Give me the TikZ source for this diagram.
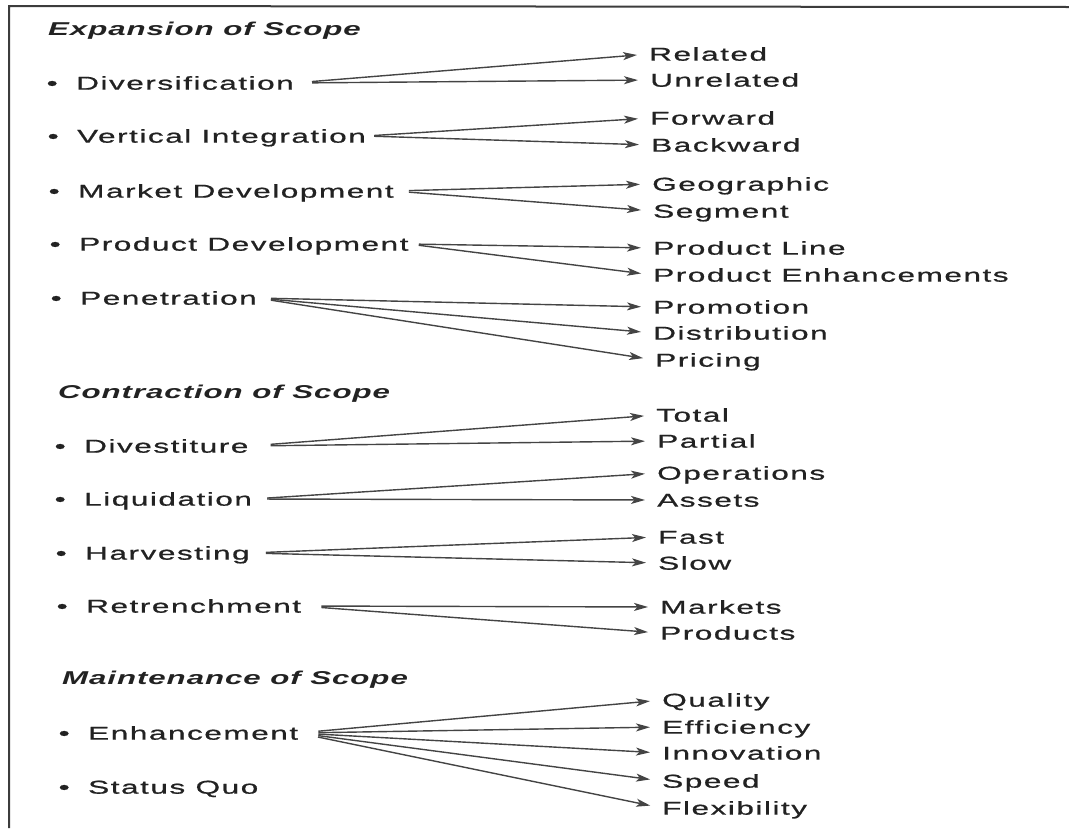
\documentclass[tikz,border=0pt]{standalone}
\usepackage{fontspec}
\setmainfont{Liberation Sans}[FakeStretch=1.7,LetterSpace=8,FakeBold=0.8]
\newfontfamily\headfont{Liberation Sans}[FakeStretch=1.68,LetterSpace=5]
\usetikzlibrary{arrows.meta}
\definecolor{ink}{HTML}{222222}
\definecolor{linegray}{HTML}{444444}
\definecolor{framegray}{HTML}{3C3C3C}
\tikzset{
  lbl/.style={anchor=west, inner sep=0pt, text height=13.3pt, text depth=0pt, text=ink,
              font=\fontsize{18.6}{22}\selectfont},
  srcnode/.style={lbl},
  tgtnode/.style={lbl},
  headnode/.style={lbl, font=\fontsize{18.6}{22}\headfont\bfseries\itshape},
  fan/.style={draw=linegray, line width=1.4pt, -{Stealth[length=14pt,width=8pt,inset=3.5pt]}, shorten >=12pt},
}
\newcommand{\bul}[1]{\makebox[0pt][c]{\textbullet}\hspace{24pt}#1}
\begin{document}
\begin{tikzpicture}[x=1pt,y=-1pt]
\useasboundingbox (0,0) rectangle (1069,828);
\draw[framegray, line width=2pt] (9,828) -- (9,6) -- (1069,7);

% headings
\node[headnode] (hexp) at (48,29) {Expansion of Scope};
\node[headnode] (hcon) at (58,392) {Contraction of Scope};
\node[headnode] (hmai) at (62,678) {Maintenance of Scope};

% sources
\node[srcnode] (div)  at (52,83)  {\bul{Diversification}};
\node[srcnode] (vi)   at (53,136) {\bul{Vertical Integration}};
\node[srcnode] (md)   at (54,191) {\bul{Market Development}};
\node[srcnode] (pd)   at (55,244) {\bul{Product Development}};
\node[srcnode] (pen)  at (56,298) {\bul{Penetration}};
\node[srcnode] (dvst) at (60,446) {\bul{Divestiture}};
\node[srcnode] (liq)  at (60,499) {\bul{Liquidation}};
\node[srcnode] (harv) at (61,553) {\bul{Harvesting}};
\node[srcnode] (retr) at (62,606) {\bul{Retrenchment}};
\node[srcnode] (enh)  at (64,733) {\bul{Enhancement}};
\node[srcnode] (sq)   at (64,787) {\bul{Status Quo}};

% targets
\node[tgtnode] (rel)  at (649,54)  {Related};
\node[tgtnode] (unr)  at (650,80)  {Unrelated};
\node[tgtnode] (fwd)  at (650,118) {Forward};
\node[tgtnode] (bwd)  at (651,145) {Backward};
\node[tgtnode] (geo)  at (652,184) {Geographic};
\node[tgtnode] (seg)  at (653,211) {Segment};
\node[tgtnode] (pl)   at (653,248) {Product Line};
\node[tgtnode] (pe)   at (653,275) {Product Enhancements};
\node[tgtnode] (prom) at (653,307) {Promotion};
\node[tgtnode] (dist) at (653,333) {Distribution};
\node[tgtnode] (pric) at (655,360) {Pricing};
\node[tgtnode] (tot)  at (656,415) {Total};
\node[tgtnode] (part) at (657,441) {Partial};
\node[tgtnode] (oper) at (657,473) {Operations};
\node[tgtnode] (ass)  at (657,500) {Assets};
\node[tgtnode] (fast) at (658,537) {Fast};
\node[tgtnode] (slow) at (658,563) {Slow};
\node[tgtnode] (mkt)  at (660,607) {Markets};
\node[tgtnode] (prod) at (660,633) {Products};
\node[tgtnode] (qual) at (662,700) {Quality};
\node[tgtnode] (eff)  at (662,727) {Efficiency};
\node[tgtnode] (inn)  at (662,753) {Innovation};
\node[tgtnode] (spd)  at (662,781) {Speed};
\node[tgtnode] (flex) at (662,808) {Flexibility};

% connectors
\foreach \s/\g/\t in {div/18/rel, div/18/unr, vi/8/fwd, vi/8/bwd, md/15/geo, md/15/seg,
                      pd/10/pl, pd/10/pe, pen/14/prom, pen/14/dist, pen/14/pric,
                      dvst/22/tot, dvst/22/part, liq/15/oper, liq/15/ass,
                      harv/16/fast, harv/16/slow, retr/20/mkt, retr/20/prod,
                      enh/20/qual, enh/20/eff, enh/20/inn, enh/20/spd, enh/20/flex}
  \draw[fan, shorten <=\g pt] (\s.east) -- (\t.west);
\end{tikzpicture}
\end{document}
